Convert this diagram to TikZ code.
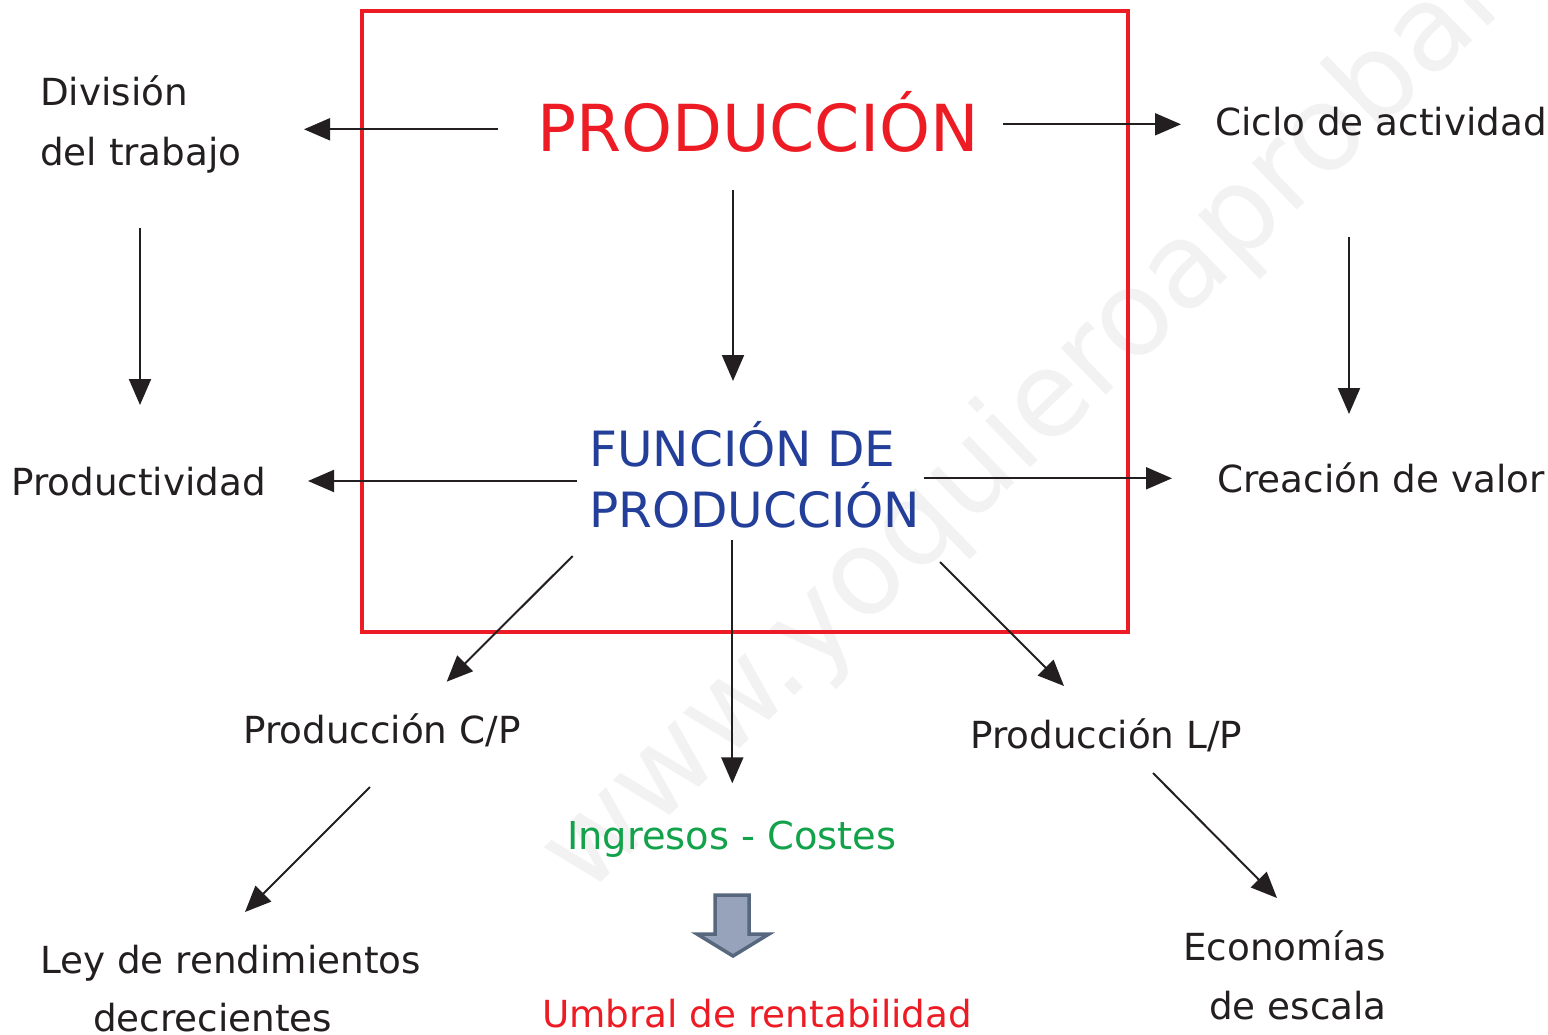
\documentclass[tikz,border=0pt]{standalone}
\usepackage{fontspec}
\setmainfont{DejaVu Sans}
\usetikzlibrary{arrows.meta}
\definecolor{pred}{HTML}{ED1C24}
\definecolor{pblue}{HTML}{233F99}
\definecolor{pgreen}{HTML}{12A24A}
\definecolor{wmgray}{HTML}{F2F2F2}
\definecolor{txt}{HTML}{231F20}
\definecolor{bafill}{HTML}{96A3BA}
\definecolor{badraw}{HTML}{56677E}
\begin{document}
\begin{tikzpicture}[x=1pt,y=-1pt,
  lbl/.style={inner sep=0pt, anchor=base west, text=txt, font=\fontsize{37.3}{44}\selectfont},
  titlered/.style={inner sep=0pt, anchor=base west, text=pred, font=\fontsize{64.8}{77}\selectfont},
  funblue/.style={inner sep=0pt, anchor=base west, text=pblue, font=\fontsize{48.6}{58}\selectfont},
  greenlbl/.style={lbl, text=pgreen, font=\fontsize{38.4}{44}\selectfont},
  redlbl/.style={lbl, text=pred},
  wmtext/.style={inner sep=0pt, anchor=base west, text=wmgray, font=\fontsize{118}{140}\selectfont},
  arr/.style={draw=txt, line width=2pt, -{Triangle[length=26pt,width=22pt]}},
  redbox/.style={draw=pred, line width=4pt},
  blockarrow/.style={draw=badraw, fill=bafill, line width=3.5pt, line join=miter},
]
\useasboundingbox (0,0) rectangle (1548,1035);
\fill[white] (0,0) rectangle (1548,1035);

% watermark
\node[wmtext, rotate=44] (wmark) at (585,898) {www.yoquieroaprobar.es};

% red frame
\draw[redbox] (362,11) rectangle (1128,632);

% texts
\node[lbl] (div1) at (40,106) {División};
\node[lbl] (div2) at (40,166) {del trabajo};
\node[titlered] (prod) at (537,152) {PRODUCCIÓN};
\node[lbl] (ciclo) at (1215,136) {Ciclo de actividad};
\node[lbl] (prodv) at (11,495) {Productividad};
\node[funblue] (fun1) at (589,466) {FUNCIÓN DE};
\node[funblue] (fun2) at (589,527) {PRODUCCIÓN};
\node[lbl] (crea) at (1217,492) {Creación de valor};
\node[lbl] (cp) at (243,743) {Producción C/P};
\node[lbl] (lp) at (970,748) {Producción L/P};
\node[greenlbl] (ing) at (567,849) {Ingresos - Costes};
\node[lbl] (ley1) at (40,973) {Ley de rendimientos};
\node[lbl] (ley2) at (93,1031) {decrecientes};
\node[lbl] (eco1) at (1183,960) {Economías};
\node[lbl] (eco2) at (1209,1019) {de escala};
\node[redlbl] (umb) at (542,1027) {Umbral de rentabilidad};

% arrow end points
\coordinate (a1s) at (498,129.3);   \coordinate (a1e) at (304,129.3);
\coordinate (a2s) at (1003,124.3);  \coordinate (a2e) at (1181,124.3);
\coordinate (a3s) at (733,190);     \coordinate (a3e) at (733,381);
\coordinate (a4s) at (140,228);     \coordinate (a4e) at (140,405);
\coordinate (a5s) at (1349,237);    \coordinate (a5e) at (1349,414);
\coordinate (a6s) at (577,481);     \coordinate (a6e) at (308,481);
\coordinate (a7s) at (924,478.3);   \coordinate (a7e) at (1172,478.3);
\coordinate (a8s) at (572.7,556);   \coordinate (a8e) at (446.7,681.7);
\coordinate (a9s) at (732.3,540);   \coordinate (a9e) at (732.3,783.3);
\coordinate (a10s) at (940,562);    \coordinate (a10e) at (1064,686);
\coordinate (a11s) at (370,787);    \coordinate (a11e) at (245,912);
\coordinate (a12s) at (1153,773);   \coordinate (a12e) at (1277,898);

\draw[arr] (a1s) -- (a1e);
\draw[arr] (a2s) -- (a2e);
\draw[arr] (a3s) -- (a3e);
\draw[arr] (a4s) -- (a4e);
\draw[arr] (a5s) -- (a5e);
\draw[arr] (a6s) -- (a6e);
\draw[arr] (a7s) -- (a7e);
\draw[arr] (a8s) -- (a8e);
\draw[arr] (a9s) -- (a9e);
\draw[arr] (a10s) -- (a10e);
\draw[arr] (a11s) -- (a11e);
\draw[arr] (a12s) -- (a12e);

% block arrow
\draw[blockarrow] (715,895) -- (749,895) -- (749,934) -- (769,934) -- (733,956) -- (697,934) -- (715,934) -- cycle;
\end{tikzpicture}
\end{document}
